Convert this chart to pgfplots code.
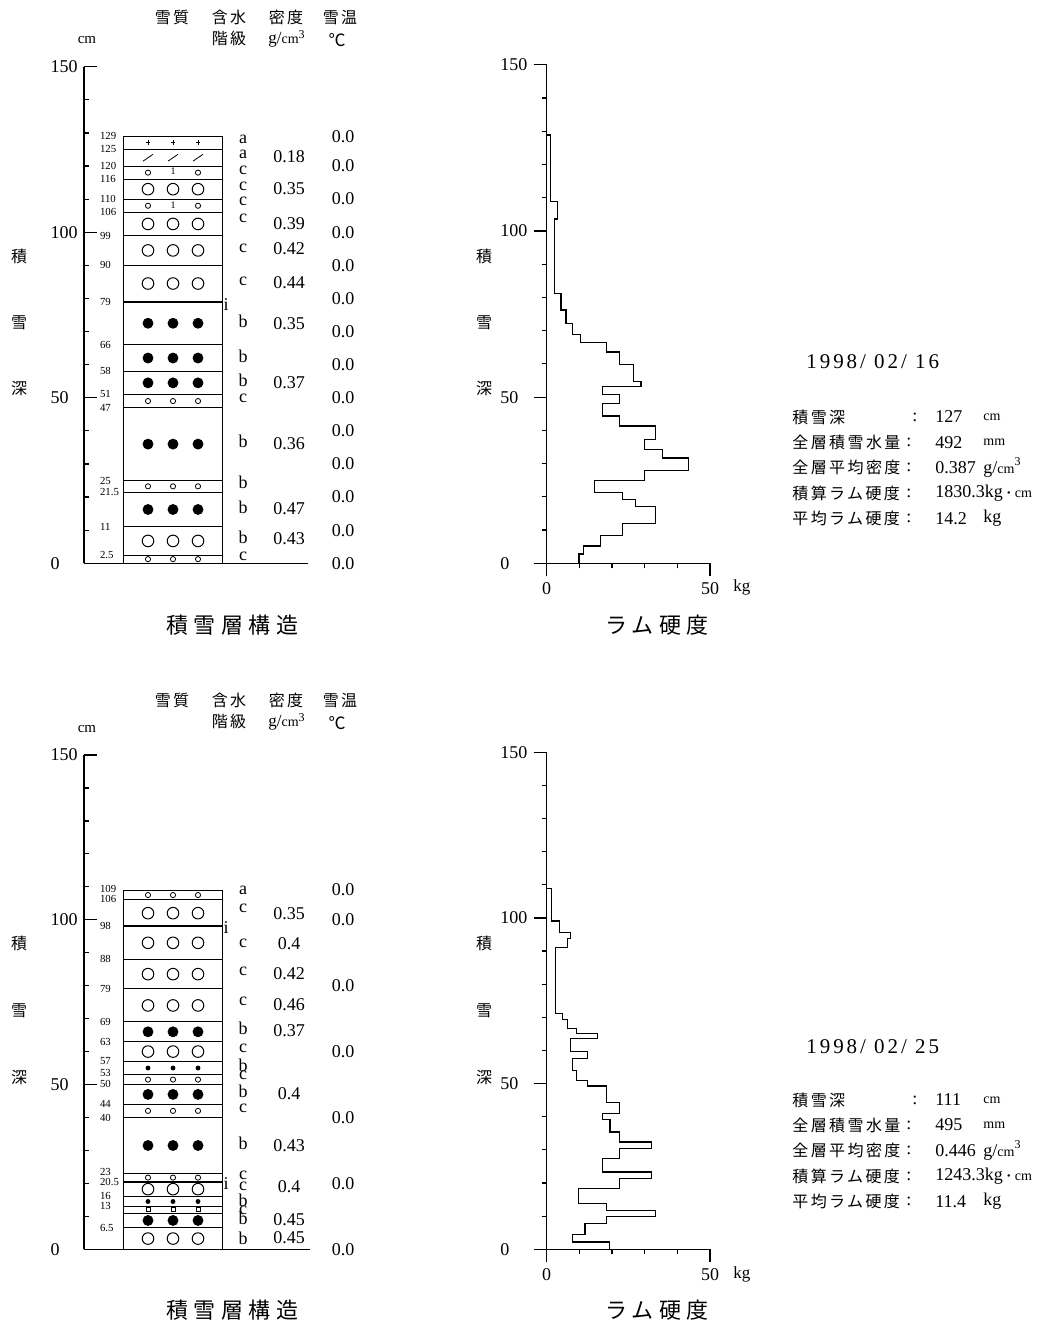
\documentclass[border=0pt]{standalone}
\usepackage{pgfplots}
\pgfplotsset{compat=1.18}
\usepackage{fontspec}
\setmainfont{Liberation Serif}
\newfontfamily\jp{Noto Sans CJK JP}
\newfontfamily\jps{Noto Sans CJK JP}[LetterSpace=15]
\newfontfamily\jpt{Noto Sans CJK JP}[LetterSpace=25]
\newfontfamily\serls{Liberation Serif}[LetterSpace=14]
\newcommand{\fs}[1]{\fontsize{#1}{#1}\selectfont}
\pgfdeclareplotmark{slash}{\pgfpathmoveto{\pgfqpoint{-2.5pt}{-1.7pt}}\pgfpathlineto{\pgfqpoint{2.5pt}{1.7pt}}\pgfusepathqstroke}

\pgfplotsset{
  base/.style={
    scale only axis, clip=false, anchor=south west,
    ymin=0, ymax=150,
    ytick={0,50,100,150},
    minor ytick={10,20,30,40,60,70,80,90,110,120,130,140},
    major tick length=6.5pt, minor tick length=2.5pt,
    tick style={black, line width=0.6pt},
    axis line style={black, line width=0.6pt, -},
    /pgf/number format/assume math mode=true,
    ticklabel style={font=\fs{9}, inner sep=0pt},
    yticklabel style={text width=16.5pt, align=left, anchor=east},
  },
  struct/.style={base,
    width=140pt, xmin=0, xmax=280,
    axis x line=none, axis y line*=left, xtick=\empty,
    tick align=inside,
  },
  ram/.style={base,
    width=81.65pt, xmin=0, xmax=50,
    axis lines*=left, tick align=outside,
    xtick={0,50}, minor xtick={10,20,30,40},
    xticklabel style={yshift=-3pt},
  },
  lbl/.style={only marks, mark=none, nodes near coords, point meta=explicit symbolic,
     nodes near coords align={center},
     every node near coord/.append style={anchor=center, inner sep=0pt, font=\fs{9}}},
  bnd/.style={only marks, mark=none, nodes near coords, point meta=explicit symbolic,
     nodes near coords align={center},
     every node near coord/.append style={anchor=center, inner sep=0pt, text width=12pt, align=left, font=\fs{5.4}}},
  lay/.style={black, line width=0.5pt},
  thk/.style={black, line width=1.1pt},
  big/.style={only marks, mark=o, mark size=2.9pt, mark options={line width=0.5pt}},
  dot/.style={only marks, mark=*, mark size=2.5pt},
  sml/.style={only marks, mark=o, mark size=1.3pt, mark options={line width=0.4pt}},
  sdot/.style={only marks, mark=*, mark size=1pt},
  sq/.style={only marks, mark=square, mark size=1pt, mark options={line width=0.4pt}},
  prof/.style={black, line width=0.6pt},
}

\begin{document}
\begin{tikzpicture}[x=0.5pt,y=0.5pt]
\path[use as bounding box] (0,0) rectangle (1041,1327);

%================ TOP LEFT: structure 1998/02/16
\begin{axis}[struct, at={(42pt,381.85pt)}, height=248.3pt]
\addplot[lay] coordinates {(39,0)(39,129)(138,129)(138,0)};
\pgfplotsinvokeforeach{125,120,116,110,106,99,90,66,58,51,47,25,21.5,11,2.5}{
  \addplot[lay] coordinates {(39,#1)(138,#1)};
}
\addplot[thk] coordinates {(39,79)(139,79)};
\addplot[lay] coordinates {(0,0)(224,0)};
\addplot[big] coordinates {(64,113)(89,113)(114,113)(64,102.5)(89,102.5)(114,102.5)(64,94.5)(89,94.5)(114,94.5)(64,84.5)(89,84.5)(114,84.5)(64,6.75)(89,6.75)(114,6.75)};
\addplot[dot] coordinates {(64,72.5)(89,72.5)(114,72.5)(64,62)(89,62)(114,62)(64,54.5)(89,54.5)(114,54.5)(64,36)(89,36)(114,36)(64,16.25)(89,16.25)(114,16.25)};
\addplot[sml] coordinates {(64,118)(114,118)(64,108)(114,108)(64,49)(89,49)(114,49)(64,23.25)(89,23.25)(114,23.25)(64,1.25)(89,1.25)(114,1.25)};
\addplot[only marks, mark=+, mark size=1.2pt, mark options={line width=0.4pt}] coordinates {(64,127)(89,127)(114,127)};
\addplot[only marks, mark=slash, mark options={line width=0.4pt}] coordinates {(64,122.5)(89,122.5)(114,122.5)};
\addplot[only marks, mark=text, text mark={1}, text mark as node=true, text mark style={font=\fs{5}, inner sep=0pt}] coordinates {(89,118.3)(89,108.3)};
\addplot[bnd] table[meta=l] {
x y l
28 129 129
28 125 125
28 120 120
28 116 116
28 110 110
28 106 106
28 99 99
28 90 90
28 79 79
28 66 66
28 58 58
28 51 51
28 47 47
28 25 25
28 21.5 21.5
28 11 11
28 2.5 2.5
};
\addplot[lbl] table[meta=l] {
x y l
159 127.9 a
159 123.4 a
159 118.8 c
159 113.8 c
159 109.2 c
159 104.2 c
159 95.2 c
159 85.1 c
159 73.0 b
159 62.6 b
159 55.4 b
159 49.8 c
159 36.7 b
159 24.4 b
159 16.9 b
159 7.7 b
159 2.2 c
142 78.3 i
};
\addplot[lbl] table[meta=l] {
x y l
205 122.8 0.18
205 113.3 0.35
205 102.7 0.39
205 94.9 0.42
205 84.8 0.44
205 72.5 0.35
205 54.6 0.37
205 36.0 0.36
205 16.6 0.47
205 7.3 0.43
};
\addplot[lbl] table[meta=l] {
x y l
259 129 0.0
259 120 0.0
259 110 0.0
259 100 0.0
259 90 0.0
259 80 0.0
259 70 0.0
259 60 0.0
259 50 0.0
259 40 0.0
259 30 0.0
259 20 0.0
259 10 0.0
259 0 0.0
};
\end{axis}

%================ TOP RIGHT: ram 1998/02/16
\begin{axis}[ram, at={(273.35pt,381.85pt)}, height=249.25pt]
\addplot[prof] coordinates {(0,128.9)(1.2,128.9)(1.2,108.8)(3.2,108.8)(3.2,103.6)(2.3,103.6)(2.3,81.2)(4.4,81.2)(4.4,76.2)(5.9,76.2)(5.9,72.2)(7.9,72.2)(7.9,68.8)(10.4,68.8)(10.4,66.4)(18.4,66.4)(18.4,63.6)(22.2,63.6)(22.2,59.8)(26.5,59.8)(26.5,54.8)(28.9,54.8)(28.9,53.1)(17.1,53.1)(17.1,50.9)(22.2,50.9)(22.2,48.1)(17.1,48.1)(17.1,44.3)(22.2,44.3)(22.2,41.3)(33.2,41.3)(33.2,37.3)(29.9,37.3)(29.9,34.2)(35.4,34.2)(35.4,31.7)(43.3,31.7)(43.3,28.0)(29.9,28.0)(29.9,24.9)(14.6,24.9)(14.6,21.4)(23.1,21.4)(23.1,19.3)(27.1,19.3)(27.1,17.0)(33.2,17.0)(33.2,12.0)(23.1,12.0)(23.1,8.3)(16.4,8.3)(16.4,5.2)(11.2,5.2)(11.2,2.8)(9.9,2.8)(9.9,0)};
\end{axis}

%================ BOTTOM LEFT: structure 1998/02/25
\begin{axis}[struct, at={(42pt,38.85pt)}, height=247.15pt]
\addplot[lay] coordinates {(39,0)(39,109)(138,109)(138,0)};
\pgfplotsinvokeforeach{106,88,79,69,63,57,53,50,44,40,23,16,13,11,6.5}{
  \addplot[lay] coordinates {(39,#1)(138,#1)};
}
\addplot[thk] coordinates {(39,98)(139,98)};
\addplot[thk] coordinates {(39,20.5)(139,20.5)};
\addplot[lay] coordinates {(0,0)(226,0)};
\addplot[big] coordinates {(64,102)(89,102)(114,102)(64,93)(89,93)(114,93)(64,83.5)(89,83.5)(114,83.5)(64,74)(89,74)(114,74)(64,60)(89,60)(114,60)(64,18.25)(89,18.25)(114,18.25)(64,3.25)(89,3.25)(114,3.25)};
\addplot[dot] coordinates {(64,66)(89,66)(114,66)(64,47)(89,47)(114,47)(64,31.5)(89,31.5)(114,31.5)(64,8.75)(89,8.75)(114,8.75)};
\addplot[sml] coordinates {(64,107.5)(89,107.5)(114,107.5)(64,51.5)(89,51.5)(114,51.5)(64,42)(89,42)(114,42)(64,21.75)(89,21.75)(114,21.75)};
\addplot[sdot] coordinates {(64,55)(89,55)(114,55)(64,14.5)(89,14.5)(114,14.5)};
\addplot[sq] coordinates {(64,12)(89,12)(114,12)};
\addplot[bnd] table[meta=l] {
x y l
28 109.4 109
28 106.2 106
28 98 98
28 88 88
28 79 79
28 69 69
28 63 63
28 57 57
28 53.4 53
28 50.2 50
28 44 44
28 40 40
28 23.6 23
28 20.5 20.5
28 16.2 16
28 13.2 13
28 6.5 6.5
};
\addplot[lbl] table[meta=l] {
x y l
159 108.8 a
159 103.5 c
159 92.8 c
159 84.2 c
159 75.1 c
159 67.1 b
159 61.0 c
159 55.9 b
159 52.9 c
159 47.8 b
159 42.8 c
159 32.2 b
159 22.5 c
159 19.0 c
159 15.0 b
159 11.9 c
159 9.4 b
159 3.3 b
142 97.6 i
142 19.9 i
};
\addplot[lbl] table[meta=l] {
x y l
205 101.9 0.35
205 92.8 0.4
205 83.7 0.42
205 74.1 0.46
205 66.3 0.37
205 47.1 0.4
205 31.4 0.43
205 19.0 0.4
205 8.9 0.45
205 3.6 0.45
};
\addplot[lbl] table[meta=l] {
x y l
259 109 0.0
259 100 0.0
259 80 0.0
259 60 0.0
259 40 0.0
259 20 0.0
259 0 0.0
};
\end{axis}

%================ BOTTOM RIGHT: ram 1998/02/25
\begin{axis}[ram, at={(273.35pt,38.85pt)}, height=248.5pt]
\addplot[prof] coordinates {(0,109.0)(1.5,109.0)(1.5,99.1)(3.8,99.1)(3.8,95.7)(7.3,95.7)(7.3,93.8)(6.3,93.8)(6.3,91.0)(2.8,91.0)(2.8,71.2)(4.8,71.2)(4.8,69.4)(6.3,69.4)(6.3,66.7)(9.2,66.7)(9.2,65.2)(15.5,65.2)(15.5,63.6)(7.3,63.6)(7.3,59.6)(12.4,59.6)(12.4,57.6)(7.9,57.6)(7.9,54.0)(9.2,54.0)(9.2,51.0)(12.4,51.0)(12.4,49.3)(18.2,49.3)(18.2,44.2)(22.2,44.2)(22.2,41.1)(17.1,41.1)(17.1,39.1)(19.4,39.1)(19.4,35.4)(22.4,35.4)(22.4,32.4)(32.2,32.4)(32.2,30.4)(22.2,30.4)(22.2,27.4)(17.1,27.4)(17.1,23.3)(32.2,23.3)(32.2,21.3)(22.2,21.3)(22.2,18.4)(9.7,18.4)(9.7,13.8)(18.2,13.8)(18.2,11.8)(33.3,11.8)(33.3,9.8)(18.2,9.8)(18.2,7.8)(11.7,7.8)(11.7,4.5)(8.0,4.5)(8.0,2.2)(19.3,2.2)(19.3,0)};
\end{axis}

%================ TEXT (pixel coordinates, y downward)
\begin{scope}[shift={(0,1327)}, yscale=-1, every node/.style={inner sep=0pt}]
\foreach \dy in {0,683} {
  \node[font=\jps\fs{8}] at (172,17.5+\dy) {雪質};
  \node[font=\jps\fs{8}] at (229,17.5+\dy) {含水};
  \node[font=\jps\fs{8}] at (229,38.5+\dy) {階級};
  \node[font=\jps\fs{8}] at (286,17.5+\dy) {密度};
  \node[font=\fs{8.5}] at (287,39+\dy) {g/{\fs{7}cm}\textsuperscript{\fs{6}3}};
  \node[font=\jps\fs{8}] at (340,17.5+\dy) {雪温};
  \node[font=\jp\fs{8.5}] at (337,40+\dy) {℃};
}
\node[font=\fs{7.5}] at (87,40) {cm};
\node[font=\fs{7.5}] at (87,729) {cm};
% y-axis labels
\foreach \x in {19,484} {
  \node[font=\jp\fs{8}] at (\x,256) {積};
  \node[font=\jp\fs{8}] at (\x,323) {雪};
  \node[font=\jp\fs{8}] at (\x,389) {深};
  \node[font=\jp\fs{8}] at (\x,943) {積};
  \node[font=\jp\fs{8}] at (\x,1011) {雪};
  \node[font=\jp\fs{8}] at (\x,1078) {深};
}
% titles
\node[font=\jpt\fs{11}] at (232,625) {積雪層構造};
\node[font=\jpt\fs{11}] at (657,625) {ラム硬度};
\node[font=\jpt\fs{11}] at (232,1310) {積雪層構造};
\node[font=\jpt\fs{11}] at (657,1310) {ラム硬度};
% kg
\node[font=\fs{8.5}, anchor=west] at (733,587) {kg};
\node[font=\fs{8.5}, anchor=west] at (733,1274) {kg};
% dates
\node[font=\serls\fs{10.5}, anchor=west] at (806,361.7) {1998/ 02/ 16};
\node[font=\serls\fs{10.5}, anchor=west] at (806,1046.7) {1998/ 02/ 25};
% stats top
\node[font=\jps\fs{8}, anchor=west] at (792,417) {積雪深};
\node[font=\jps\fs{8}, anchor=west] at (792,442.7) {全層積雪水量};
\node[font=\jps\fs{8}, anchor=west] at (792,467.7) {全層平均密度};
\node[font=\jps\fs{8}, anchor=west] at (792,493.3) {積算ラム硬度};
\node[font=\jps\fs{8}, anchor=west] at (792,518.3) {平均ラム硬度};
\node[font=\fs{9}, anchor=west] at (912,417) {:};
\foreach \yy in {442.7,467.7,493.3,518.3} {\node[font=\fs{9}, anchor=west] at (906,\yy) {:};}
\node[font=\fs{9}, anchor=west] at (935,417) {127};
\node[font=\fs{9}, anchor=west] at (935,442.7) {492};
\node[font=\fs{9}, anchor=west] at (935,467.7) {0.387};
\node[font=\fs{9}, anchor=west] at (935,493.3) {1830.3kg{\jp\fs{6}・}{\fs{7}cm}};
\node[font=\fs{9}, anchor=west] at (935,518.3) {14.2};
\node[font=\fs{7}, anchor=west] at (983,417) {cm};
\node[font=\fs{7}, anchor=west] at (983,442.7) {mm};
\node[font=\fs{9}, anchor=west] at (983,467.7) {g/{\fs{7}cm}\textsuperscript{\fs{6}3}};
\node[font=\fs{9}, anchor=west] at (983,518.3) {kg};
% stats bottom
\node[font=\jps\fs{8}, anchor=west] at (792,1100) {積雪深};
\node[font=\jps\fs{8}, anchor=west] at (792,1125) {全層積雪水量};
\node[font=\jps\fs{8}, anchor=west] at (792,1150.7) {全層平均密度};
\node[font=\jps\fs{8}, anchor=west] at (792,1176) {積算ラム硬度};
\node[font=\jps\fs{8}, anchor=west] at (792,1201.7) {平均ラム硬度};
\node[font=\fs{9}, anchor=west] at (912,1100) {:};
\foreach \yy in {1125,1150.7,1176,1201.7} {\node[font=\fs{9}, anchor=west] at (906,\yy) {:};}
\node[font=\fs{9}, anchor=west] at (935,1100) {111};
\node[font=\fs{9}, anchor=west] at (935,1125) {495};
\node[font=\fs{9}, anchor=west] at (935,1150.7) {0.446};
\node[font=\fs{9}, anchor=west] at (935,1176) {1243.3kg{\jp\fs{6}・}{\fs{7}cm}};
\node[font=\fs{9}, anchor=west] at (935,1201.7) {11.4};
\node[font=\fs{7}, anchor=west] at (983,1100) {cm};
\node[font=\fs{7}, anchor=west] at (983,1125) {mm};
\node[font=\fs{9}, anchor=west] at (983,1150.7) {g/{\fs{7}cm}\textsuperscript{\fs{6}3}};
\node[font=\fs{9}, anchor=west] at (983,1201.7) {kg};
\end{scope}
\end{tikzpicture}
\end{document}
